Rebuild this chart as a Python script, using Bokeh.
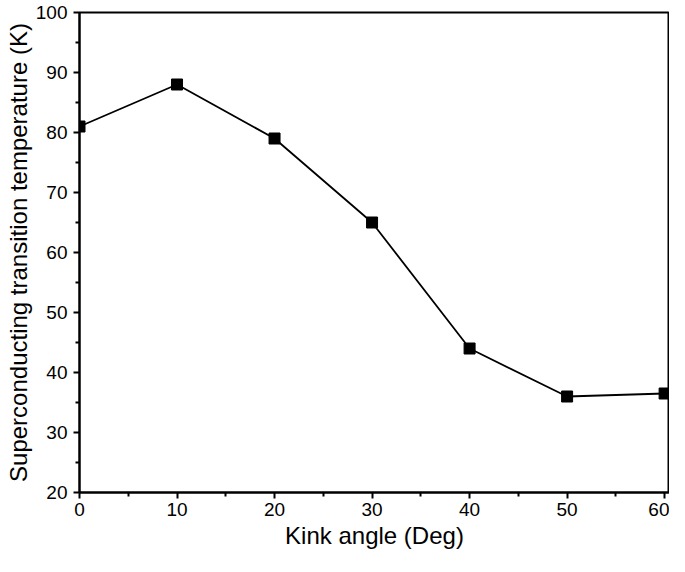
from bokeh.plotting import figure
from bokeh.embed import file_html
from bokeh.resources import INLINE
from bokeh.models import Range1d, FixedTicker

kink_angle = [0, 10, 20, 30, 40, 50, 60]
tc = [81, 88, 79, 65, 44, 36, 36.5]

p = figure(width=669, height=555, output_backend="svg", toolbar_location=None,
           x_range=Range1d(0, 60.5), y_range=Range1d(20, 100),
           min_border_left=79, min_border_right=0, min_border_top=12, min_border_bottom=63)

p.line(kink_angle, tc, line_color="black", line_width=1.8)
p.scatter(kink_angle, tc, marker="square", size=11, fill_color="black", line_color="black")

p.grid.visible = False
p.outline_line_color = "black"
p.outline_line_width = 2

for ax in (p.xaxis[0], p.yaxis[0]):
    ax.axis_line_width = 2
    ax.major_tick_line_width = 2
    ax.minor_tick_line_width = 2
    ax.major_tick_out = 6
    ax.major_tick_in = 0
    ax.minor_tick_out = 4
    ax.minor_tick_in = 0
    ax.major_label_text_font = "Liberation Sans"
    ax.major_label_text_font_size = "19px"
    ax.major_label_text_color = "black"
    ax.axis_label_text_font = "Liberation Sans"
    ax.axis_label_text_font_size = "24px"
    ax.axis_label_text_font_style = "normal"
    ax.axis_label_text_color = "black"

p.xaxis.ticker = FixedTicker(ticks=[0, 10, 20, 30, 40, 50, 60], minor_ticks=[5, 15, 25, 35, 45, 55])
p.yaxis.ticker = FixedTicker(ticks=[20, 30, 40, 50, 60, 70, 80, 90, 100],
                             minor_ticks=[25, 35, 45, 55, 65, 75, 85, 95])
p.xaxis.axis_label = "Kink angle (Deg)"
p.yaxis.axis_label = "Superconducting transition temperature (K)"
p.xaxis.major_label_standoff = 4
p.xaxis.axis_label_standoff = 3
p.yaxis.major_label_standoff = 6
p.yaxis.axis_label_standoff = 1

open("out.html", "w").write(file_html(p, INLINE))
